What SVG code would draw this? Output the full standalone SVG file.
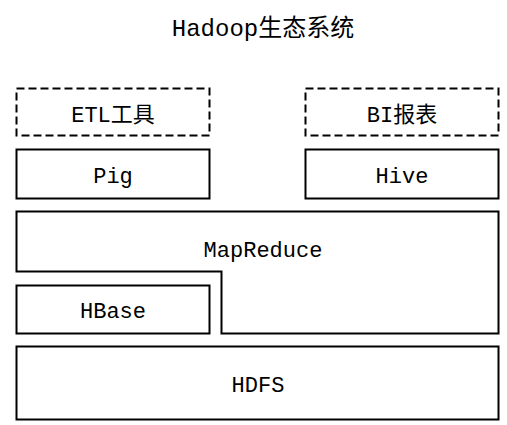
<svg xmlns="http://www.w3.org/2000/svg" width="507" height="425" viewBox="0 0 507 425">
<style>
.box{fill:#fff;stroke:#000;stroke-width:2}
.dash{fill:#fff;stroke:#000;stroke-width:2;stroke-dasharray:8 4}
text{font-family:"Liberation Mono","Noto Sans CJK SC",monospace;font-size:22px;fill:#000;text-anchor:middle}
.title{font-size:24px}
</style>
<rect width="507" height="425" fill="#fff"/>
<text class="title" x="263" y="36">Hadoop生态系统</text>
<g id="etl"><rect class="dash" x="16.5" y="88.5" width="193" height="47"/><text x="113" y="122">ETL工具</text></g>
<g id="bi"><rect class="dash" x="305.5" y="88.5" width="193" height="47"/><text x="402" y="122">BI报表</text></g>
<g id="pig"><rect class="box" x="16.5" y="149.5" width="193" height="49"/><text x="113" y="183">Pig</text></g>
<g id="hive"><rect class="box" x="305.5" y="149.5" width="193" height="49"/><text x="402" y="183">Hive</text></g>
<g id="mapreduce"><path class="box" d="M16.5 211.5 H498.5 V333.5 H221.5 V271.5 H16.5 Z"/><text x="263" y="257">MapReduce</text></g>
<g id="hbase"><rect class="box" x="16.5" y="285.5" width="193" height="48"/><text x="113" y="318">HBase</text></g>
<g id="hdfs"><rect class="box" x="16.5" y="346.5" width="482" height="73"/><text x="258" y="392">HDFS</text></g>
<g id="connectors"></g>
</svg>
